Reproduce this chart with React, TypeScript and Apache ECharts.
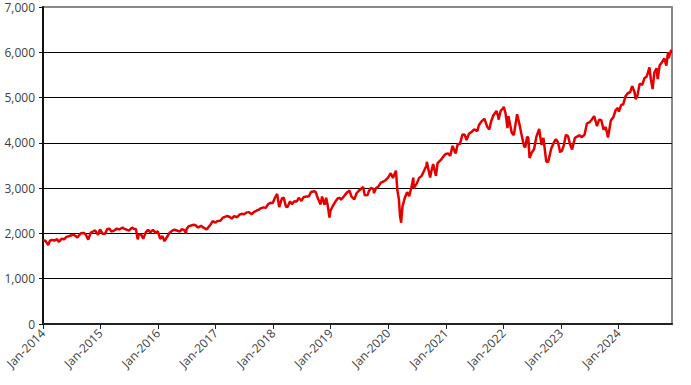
import React, { useEffect, useRef } from "react";
import * as echarts from "echarts";

const dates: string[] = [
  "2014-01-02","2014-01-15","2014-02-03","2014-02-14","2014-02-28","2014-03-14","2014-03-31","2014-04-11","2014-04-30","2014-05-15","2014-05-30","2014-06-13","2014-06-30","2014-07-15","2014-07-31","2014-08-07","2014-08-29","2014-09-18","2014-09-30","2014-10-15","2014-10-31","2014-11-14","2014-11-28","2014-12-16","2014-12-29",
  "2015-01-15","2015-01-30","2015-02-13","2015-02-27","2015-03-11","2015-03-31","2015-04-15","2015-04-30","2015-05-21","2015-05-29","2015-06-15","2015-06-30","2015-07-20","2015-07-31","2015-08-14","2015-08-25","2015-08-31","2015-09-15","2015-09-29","2015-10-15","2015-10-30","2015-11-13","2015-11-30","2015-12-14","2015-12-31",
  "2016-01-15","2016-01-29","2016-02-11","2016-02-29","2016-03-15","2016-03-31","2016-04-15","2016-04-29","2016-05-19","2016-05-31","2016-06-15","2016-06-27","2016-06-30","2016-07-15","2016-07-29","2016-08-15","2016-08-31","2016-09-09","2016-09-30","2016-10-14","2016-11-04","2016-11-30","2016-12-13","2016-12-30",
  "2017-01-13","2017-01-31","2017-02-15","2017-02-28","2017-03-15","2017-03-31","2017-04-13","2017-04-28","2017-05-17","2017-05-31","2017-06-15","2017-06-30","2017-07-14","2017-07-31","2017-08-18","2017-08-31","2017-09-15","2017-09-29","2017-10-13","2017-10-31","2017-11-15","2017-11-30","2017-12-15","2017-12-29",
  "2018-01-12","2018-01-26","2018-02-08","2018-02-26","2018-03-09","2018-03-23","2018-04-02","2018-04-18","2018-04-30","2018-05-15","2018-05-31","2018-06-12","2018-06-29","2018-07-13","2018-07-31","2018-08-15","2018-08-29","2018-09-20","2018-09-28","2018-10-10","2018-10-29","2018-11-07","2018-11-23","2018-12-03","2018-12-14","2018-12-24","2018-12-31",
  "2019-01-15","2019-01-31","2019-02-15","2019-02-28","2019-03-08","2019-03-29","2019-04-15","2019-04-30","2019-05-13","2019-05-31","2019-06-14","2019-06-28","2019-07-26","2019-08-05","2019-08-23","2019-08-30","2019-09-13","2019-09-30","2019-10-02","2019-10-15","2019-10-31","2019-11-15","2019-11-29","2019-12-13","2019-12-31",
  "2020-01-17","2020-01-31","2020-02-19","2020-02-28","2020-03-09","2020-03-16","2020-03-23","2020-03-31","2020-04-15","2020-04-30","2020-05-13","2020-05-29","2020-06-08","2020-06-11","2020-06-30","2020-07-15","2020-07-31","2020-08-14","2020-08-31","2020-09-02","2020-09-23","2020-09-30","2020-10-12","2020-10-30","2020-11-09","2020-11-30","2020-12-15","2020-12-31",
  "2021-01-15","2021-01-29","2021-02-12","2021-02-26","2021-03-04","2021-03-17","2021-03-31","2021-04-16","2021-04-30","2021-05-12","2021-05-28","2021-06-15","2021-06-30","2021-07-19","2021-07-30","2021-08-16","2021-08-31","2021-09-02","2021-09-20","2021-09-30","2021-10-04","2021-10-15","2021-10-29","2021-11-18","2021-11-30","2021-12-01","2021-12-15","2021-12-31",
  "2022-01-03","2022-01-14","2022-01-27","2022-02-02","2022-02-23","2022-03-08","2022-03-29","2022-04-14","2022-04-29","2022-05-12","2022-05-20","2022-05-31","2022-06-08","2022-06-16","2022-06-30","2022-07-15","2022-07-29","2022-08-16","2022-08-31","2022-09-12","2022-09-30","2022-10-12","2022-10-31","2022-11-15","2022-11-30","2022-12-13","2022-12-28","2022-12-30",
  "2023-01-05","2023-01-18","2023-02-02","2023-02-15","2023-02-28","2023-03-13","2023-03-31","2023-04-14","2023-04-28","2023-05-12","2023-05-31","2023-06-15","2023-06-30","2023-07-14","2023-07-31","2023-08-18","2023-08-31","2023-09-14","2023-09-29","2023-10-12","2023-10-27","2023-11-14","2023-11-30","2023-12-14","2023-12-29",
  "2024-01-04","2024-01-19","2024-01-31","2024-02-15","2024-02-29","2024-03-15","2024-03-28","2024-04-12","2024-04-19","2024-04-30","2024-05-15","2024-05-31","2024-06-14","2024-06-28","2024-07-16","2024-07-25","2024-08-05","2024-08-16","2024-08-30","2024-09-06","2024-09-19","2024-09-30","2024-10-18","2024-10-31","2024-11-11","2024-11-15","2024-11-29","2024-12-05",
];

const values: number[] = [
  1832,1848,1741,1838,1859,1841,1872,1815,1884,1870,1924,1936,1960,1973,1931,1910,2003,2011,1972,1862,2018,2039,2067,1972,2090,
  1992,1995,2096,2104,2040,2068,2106,2086,2131,2107,2084,2063,2128,2104,2092,1868,1972,1979,1884,2024,2079,2023,2080,2021,2044,
  1880,1940,1829,1932,2016,2060,2081,2065,2040,2097,2071,2001,2099,2162,2174,2191,2171,2128,2168,2133,2085,2199,2272,2239,
  2274,2279,2349,2364,2385,2363,2329,2384,2357,2412,2433,2423,2459,2470,2425,2472,2500,2519,2553,2575,2564,2648,2676,2674,
  2786,2873,2581,2779,2786,2588,2582,2708,2648,2711,2705,2787,2718,2801,2816,2818,2914,2931,2914,2786,2641,2814,2633,2790,2600,2351,2507,
  2611,2704,2776,2784,2743,2834,2906,2946,2812,2752,2887,2942,3026,2844,2847,2926,3007,2977,2888,2996,3038,3120,3141,3169,3231,
  3330,3226,3386,2954,2747,2386,2237,2585,2783,2912,2820,3044,3232,3002,3100,3227,3271,3373,3500,3580,3237,3363,3534,3270,3550,3622,3695,3756,
  3768,3714,3934,3811,3768,3974,3973,4185,4181,4063,4204,4246,4298,4258,4395,4479,4523,4537,4358,4308,4300,4471,4605,4704,4567,4513,4709,4766,
  4797,4662,4326,4589,4225,4170,4632,4392,4132,3930,3901,4132,4116,3667,3785,3863,4130,4305,3955,4110,3586,3577,3872,3992,4080,4020,3783,3840,
  3808,3929,4180,4148,3970,3855,4109,4138,4169,4124,4180,4426,4450,4505,4589,4370,4508,4505,4288,4349,4117,4496,4568,4720,4770,
  4688,4840,4846,5030,5096,5117,5254,5123,4967,5036,5308,5278,5431,5460,5667,5399,5186,5554,5648,5408,5713,5762,5864,5705,6001,5870,6032,6050,
];

const tickYears: number[] = [2014,2015,2016,2017,2018,2019,2020,2021,2022,2023,2024];
const axisStart = "2014-01-01";
const axisEnd = "2024-12-06";

function toTime(s: string): number {
  const [y, m, d] = s.split("-").map(Number);
  return Date.UTC(y, m - 1, d);
}

export default function App() {
  const ref = useRef<HTMLDivElement>(null);
  useEffect(() => {
    if (!ref.current) return;
    const chart = echarts.init(ref.current, null, { renderer: "svg" });
    const tickVals = tickYears.map((y) => Date.UTC(y, 0, 1));
    const fontFamily = "'Open Sans', sans-serif";
    chart.setOption({
      animation: false,
      grid: {
        left: 43,
        top: 7,
        right: 19,
        bottom: 61,
        show: true,
        borderColor: "#888888",
        borderWidth: 2,
        backgroundColor: "transparent",
      },
      xAxis: {
        type: "value",
        min: toTime(axisStart),
        max: toTime(axisEnd),
        axisLine: { show: true, onZero: false, lineStyle: { color: "#222", width: 2 } },
        axisTick: {
          show: true,
          length: 5,
          inside: false,
          customValues: tickVals,
          lineStyle: { color: "#222", width: 1 },
        },
        axisLabel: {
          customValues: tickVals,
          rotate: 45,
          margin: 7,
          color: "#404040",
          fontSize: 12,
          fontFamily,
          formatter: (v: number) => "Jan-" + new Date(v).getUTCFullYear(),
        },
        splitLine: { show: false },
      },
      yAxis: {
        type: "value",
        min: 0,
        max: 7000,
        interval: 1000,
        axisLine: { show: true, lineStyle: { color: "#111", width: 2 } },
        axisTick: { show: true, length: 4, lineStyle: { color: "#111" } },
        axisLabel: {
          color: "#404040",
          fontSize: 12,
          fontFamily,
          margin: 8,
          formatter: (v: number) => v.toLocaleString("en-US"),
        },
        splitLine: {
          show: true,
          showMinLine: false,
          showMaxLine: false,
          lineStyle: { color: "#000", width: 1 },
        },
      },
      series: [
        {
          type: "line",
          data: dates.map((d, i) => [toTime(d), values[i]]),
          showSymbol: false,
          symbol: "none",
          lineStyle: { color: "#e50000", width: 2.5 },
          z: 3,
        },
      ],
    });
    return () => chart.dispose();
  }, []);
  return (
    <div
      ref={ref}
      style={{ position: "absolute", left: 0, top: 0, width: 691, height: 385 }}
    />
  );
}
